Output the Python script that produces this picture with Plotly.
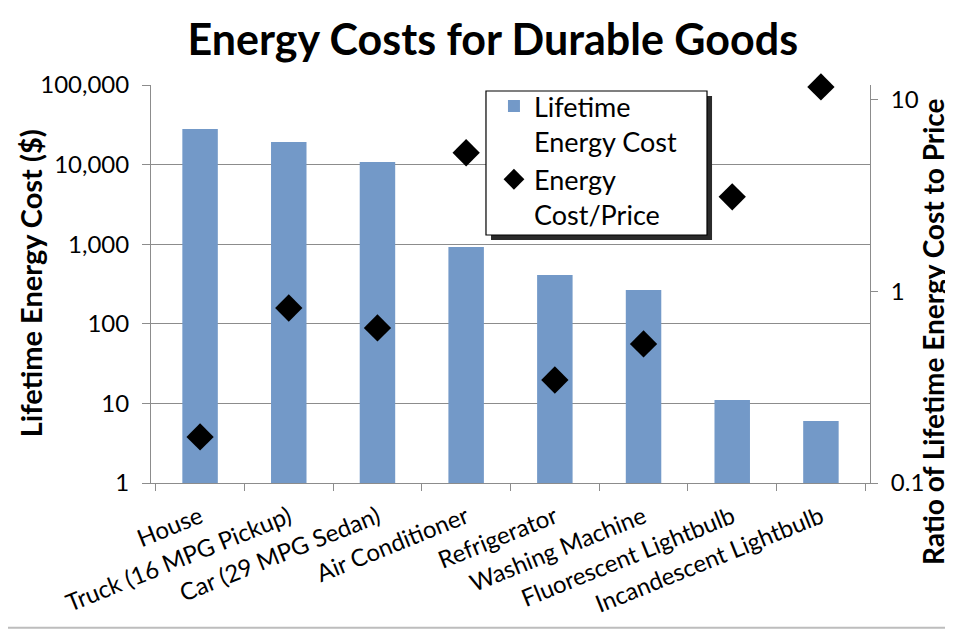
import plotly.graph_objects as go

categories = ["House", "Truck (16 MPG Pickup)", "Car (29 MPG Sedan)", "Air Conditioner",
              "Refrigerator", "Washing Machine", "Fluorescent Lightbulb", "Incandescent Lightbulb"]
lifetime_cost = [28000, 19200, 10800, 920, 410, 266, 11, 6.0]
cost_to_price = [0.174, 0.82, 0.645, 5.3, 0.345, 0.532, 3.12, 11.7]
left_ticks = [1, 10, 100, 1000, 10000, 100000]
left_ticktext = ["1", "10", "100", "1,000", "10,000", "100,000"]
right_ticks = [0.1, 1, 10]
right_ticktext = ["0.1", "1", "10"]

FONT = "Lato"
GRID = "#8c8c8c"

fig = go.Figure()
fig.add_trace(go.Bar(x=categories, y=lifetime_cost, name="Lifetime<br>Energy Cost",
                     marker=dict(color="#7399C8", line=dict(width=0)), yaxis="y"))
fig.add_trace(go.Scatter(x=categories, y=cost_to_price, name="Energy<br>Cost/Price", mode="markers",
                         cliponaxis=False,
                         marker=dict(symbol="diamond", size=21, color="black"), yaxis="y2"))

fig.update_layout(
    width=945, height=623,
    margin=dict(l=143, r=83, t=77, b=148),
    paper_bgcolor="white", plot_bgcolor="white",
    font=dict(family=FONT, color="black"),
    bargap=0.6,
    showlegend=True,
    title=dict(text="<b>Energy Costs for Durable Goods</b>", x=0.513, xanchor="center",
               y=0.949, yanchor="middle", font=dict(size=43, family=FONT)),
    xaxis=dict(type="category", tickangle=-22, tickfont=dict(size=24), ticks="outside",
               tickson="boundaries", ticklen=7, tickcolor=GRID, showline=True, linecolor=GRID,
               showgrid=False, automargin=False, ticklabelstandoff=10),
    yaxis=dict(type="log", range=[0, 5], tickvals=left_ticks, ticktext=left_ticktext,
               tickfont=dict(size=24), ticks="outside", ticklen=8, tickcolor=GRID,
               showline=True, linecolor=GRID, gridcolor=GRID, zeroline=False, automargin=False,
               ticklabelstandoff=8),
    yaxis2=dict(type="log", range=[-1, 1.078], overlaying="y", side="right",
                tickvals=right_ticks, ticktext=right_ticktext, tickfont=dict(size=24),
                ticks="outside", ticklen=7, tickcolor=GRID, showline=True, linecolor=GRID,
                showgrid=False, zeroline=False, automargin=False, ticklabelstandoff=8),
    legend=dict(x=0.477, y=1.0076, xanchor="left", yanchor="top", bgcolor="rgba(0,0,0,0)",
                borderwidth=0, font=dict(size=27), valign="top", tracegroupgap=0),
    annotations=[
        dict(text="<b>Lifetime Energy Cost ($)</b>", xref="paper", yref="paper",
             x=-0.168, y=0.5025, textangle=-90, showarrow=False, font=dict(size=29),
             xanchor="center", yanchor="middle"),
        dict(text="<b>Ratio of Lifetime Energy Cost to Price</b>", xref="paper", yref="paper",
             x=1.0876, y=0.382, textangle=-90, showarrow=False, font=dict(size=28),
             xanchor="center", yanchor="middle"),
    ],
    shapes=[
        # legend shadow
        dict(type="rect", xref="paper", yref="paper", x0=0.4729, x1=0.7803, y0=0.6106, y1=0.9724,
             fillcolor="#2b2b2b", line=dict(width=0), layer="above"),
        # legend box
        dict(type="rect", xref="paper", yref="paper", x0=0.4659, x1=0.7733, y0=0.6231, y1=0.9849,
             fillcolor="white", line=dict(color="black", width=1.2), layer="above"),
        dict(type="line", xref="paper", yref="paper", x0=-0.2, x1=1.115, y0=-0.364, y1=-0.364,
             line=dict(color="#bdbdbd", width=2)),
    ],
)

fig.write_html("out.html")
